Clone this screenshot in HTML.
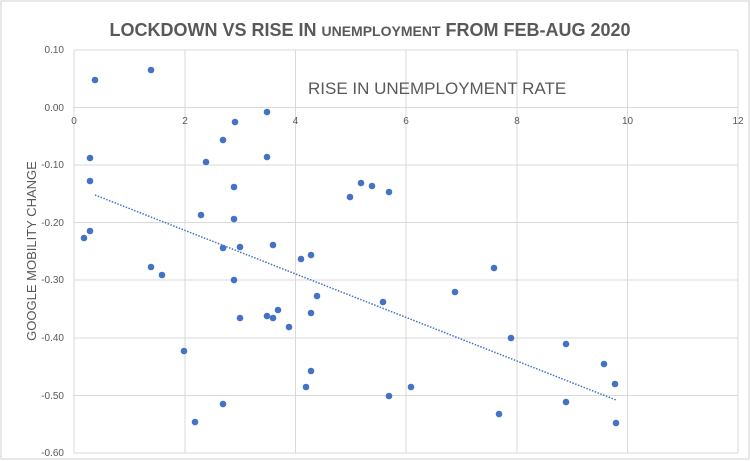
<!DOCTYPE html>
<html><head><meta charset="utf-8"><style>
html,body{margin:0;padding:0;background:#fff;}
svg{display:block;font-family:"Liberation Sans",sans-serif;}
</style></head><body>
<svg width="751" height="461" viewBox="0 0 751 461" xmlns="http://www.w3.org/2000/svg">
<rect x="1" y="1" width="748" height="458" fill="#fff" stroke="#d9d9d9" stroke-width="1.2"/>
<g stroke="#d9d9d9" stroke-width="1">
<line x1="74" y1="50" x2="738" y2="50"/>
<line x1="74" y1="107.5" x2="738" y2="107.5"/>
<line x1="74" y1="165" x2="738" y2="165"/>
<line x1="74" y1="222.5" x2="738" y2="222.5"/>
<line x1="74" y1="280" x2="738" y2="280"/>
<line x1="74" y1="338" x2="738" y2="338"/>
<line x1="74" y1="395.5" x2="738" y2="395.5"/>
<line x1="74" y1="453" x2="738" y2="453"/>
<line x1="74" y1="50" x2="74" y2="453"/>
<line x1="185" y1="50" x2="185" y2="453"/>
<line x1="295.5" y1="50" x2="295.5" y2="453"/>
<line x1="406" y1="50" x2="406" y2="453"/>
<line x1="517" y1="50" x2="517" y2="453"/>
<line x1="627.5" y1="50" x2="627.5" y2="453"/>
<line x1="738" y1="50" x2="738" y2="453"/>
</g>
<g fill="#595959" font-size="10" text-anchor="end">
<text x="64" y="53">0.10</text>
<text x="64" y="111">0.00</text>
<text x="64" y="168">-0.10</text>
<text x="64" y="226">-0.20</text>
<text x="64" y="283">-0.30</text>
<text x="64" y="341">-0.40</text>
<text x="64" y="399">-0.50</text>
<text x="64" y="456">-0.60</text>
</g>
<g fill="#595959" font-size="10" text-anchor="middle">
<text x="74" y="124">0</text><text x="185" y="124">2</text><text x="295.5" y="124">4</text>
<text x="406" y="124">6</text><text x="517" y="124">8</text><text x="627.5" y="124">10</text><text x="738" y="124">12</text>
</g>
<text x="370" y="36" text-anchor="middle" fill="#595959" font-weight="bold" font-size="18">LOCKDOWN VS RISE IN  <tspan font-size="14">UNEMPLOYMENT</tspan> FROM FEB-AUG 2020</text>
<text x="308" y="94" fill="#595959" font-size="17">RISE IN UNEMPLOYMENT RATE</text>
<text transform="translate(36,251) rotate(-90)" text-anchor="middle" fill="#595959" font-size="13">GOOGLE MOBILITY CHANGE</text>
<line x1="95" y1="195" x2="616" y2="400" stroke="#4472c4" stroke-width="1.5" stroke-dasharray="1.5,1.5"/>
<g fill="#4472c4">
<circle cx="95" cy="80" r="3.3"/><circle cx="151" cy="70" r="3.3"/><circle cx="267" cy="112" r="3.3"/>
<circle cx="235" cy="122" r="3.3"/><circle cx="223" cy="140" r="3.3"/><circle cx="206" cy="162" r="3.3"/>
<circle cx="267" cy="157" r="3.3"/><circle cx="90" cy="158" r="3.3"/><circle cx="90" cy="181" r="3.3"/>
<circle cx="234" cy="187" r="3.3"/><circle cx="372" cy="186" r="3.3"/><circle cx="350" cy="197" r="3.3"/>
<circle cx="361" cy="183" r="3.3"/><circle cx="389" cy="192" r="3.3"/><circle cx="201" cy="215" r="3.3"/>
<circle cx="234" cy="219" r="3.3"/><circle cx="90" cy="231" r="3.3"/><circle cx="84" cy="238" r="3.3"/>
<circle cx="273" cy="245" r="3.3"/><circle cx="223" cy="248" r="3.3"/><circle cx="240" cy="247" r="3.3"/>
<circle cx="301" cy="259" r="3.3"/><circle cx="311" cy="255" r="3.3"/><circle cx="494" cy="268" r="3.3"/>
<circle cx="151" cy="267" r="3.3"/><circle cx="162" cy="275" r="3.3"/><circle cx="234" cy="280" r="3.3"/>
<circle cx="317" cy="296" r="3.3"/><circle cx="383" cy="302" r="3.3"/><circle cx="455" cy="292" r="3.3"/>
<circle cx="278" cy="310" r="3.3"/><circle cx="267" cy="316" r="3.3"/><circle cx="273" cy="318" r="3.3"/>
<circle cx="240" cy="318" r="3.3"/><circle cx="289" cy="327" r="3.3"/><circle cx="311" cy="313" r="3.3"/>
<circle cx="511" cy="338" r="3.3"/><circle cx="566" cy="344" r="3.3"/><circle cx="184" cy="351" r="3.3"/>
<circle cx="604" cy="364" r="3.3"/><circle cx="311" cy="371" r="3.3"/><circle cx="306" cy="387" r="3.3"/>
<circle cx="411" cy="387" r="3.3"/><circle cx="389" cy="396" r="3.3"/><circle cx="615" cy="384" r="3.3"/>
<circle cx="566" cy="402" r="3.3"/><circle cx="223" cy="404" r="3.3"/><circle cx="499" cy="414" r="3.3"/>
<circle cx="195" cy="422" r="3.3"/><circle cx="616" cy="423" r="3.3"/>
</g>
</svg>
</body></html>
